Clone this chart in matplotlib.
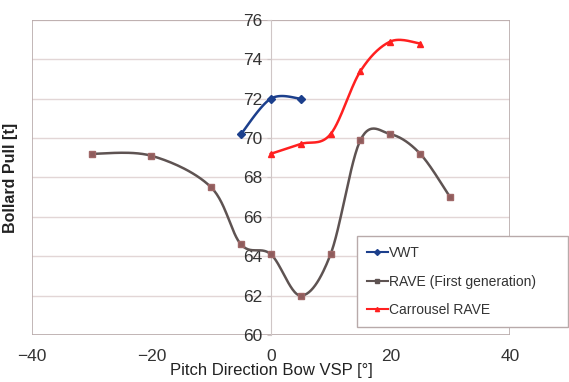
import matplotlib.pyplot as plt
import numpy as np
from matplotlib.patches import Rectangle

plt.rcParams['font.family'] = ['Liberation Sans', 'DejaVu Sans']

# data
vwt_x = [-5, 0, 5]
vwt_y = [70.2, 72.0, 72.0]

rave_x = [-30, -20, -10, -5, 0, 5, 10, 15, 20, 25, 30]
rave_y = [69.2, 69.1, 67.5, 64.6, 64.1, 62.0, 64.1, 69.9, 70.2, 69.2, 67.0]

carr_x = [0, 5, 10, 15, 20, 25]
carr_y = [69.2, 69.7, 70.2, 73.4, 74.9, 74.8]

x_ticks = [-40, -20, 0, 20, 40]
y_ticks = [60, 62, 64, 66, 68, 70, 72, 74, 76]


def smooth(xs, ys, n=30):
    # excel-style smoothed line (catmull-rom through the points)
    p = np.column_stack([xs, ys]).astype(float)
    p = np.vstack([p[0], p, p[-1]])
    out = []
    for i in range(1, len(p) - 2):
        p0, p1, p2, p3 = p[i - 1], p[i], p[i + 1], p[i + 2]
        t = np.linspace(0, 1, n)[:, None]
        seg = 0.5 * ((2 * p1) + (-p0 + p2) * t + (2 * p0 - 5 * p1 + 4 * p2 - p3) * t ** 2
                     + (-p0 + 3 * p1 - 3 * p2 + p3) * t ** 3)
        out.append(seg)
    out = np.vstack(out)
    return out[:, 0], out[:, 1]


fig = plt.figure(figsize=(5.69, 3.82), dpi=100)
ax = fig.add_axes([0.056, 0.123, 0.84, 0.825])

ax.set_xlim(-40, 40)
ax.set_ylim(60, 76)
ax.set_yticks(y_ticks)
ax.set_xticks(x_ticks)

for y in y_ticks:
    ax.axhline(y, color='#e2d6d6', lw=1, zorder=0)

for s in ['top', 'right', 'bottom']:
    ax.spines[s].set_visible(False)
ax.spines['left'].set_position(('data', 0))
ax.spines['left'].set_color('#cfc6c6')
ax.add_patch(Rectangle((0, 0), 1, 1, transform=ax.transAxes, fill=False,
                       edgecolor='#b8aaaa', lw=1.2, zorder=1))
ax.tick_params(axis='both', labelsize=12.5, colors='#333333', length=3)
ax.tick_params(axis='y', color='#cfc6c6', pad=3)
ax.tick_params(axis='x', color='#cfc6c6', length=0, pad=10)

col_vwt = '#1c3f8c'
col_rave = '#5e5352'
col_carr = '#ff2020'

sx, sy = smooth(vwt_x, vwt_y)
ax.plot(sx, sy, color=col_vwt, lw=1.8, zorder=3)
ax.plot(vwt_x, vwt_y, 'D', color=col_vwt, ms=4.5, zorder=4)

sx, sy = smooth(rave_x, rave_y)
ax.plot(sx, sy, color=col_rave, lw=1.8, zorder=3)
ax.plot(rave_x, rave_y, 's', color='#8e5c5c', mec='#a06868', ms=5, zorder=4)

sx, sy = smooth(carr_x, carr_y)
ax.plot(sx, sy, color=col_carr, lw=1.8, zorder=3)
ax.plot(carr_x, carr_y, '^', color=col_carr, ms=5, zorder=4)

ax.set_ylabel('Bollard Pull [t]', fontsize=11.5, fontweight='bold', color='#222222')
ax.yaxis.set_label_coords(-0.028, 0.5)
# x label sits right at the bottom edge, as in the original
fig.text(271 / 569, 1 - 371 / 382, 'Pitch Direction Bow VSP [°]', fontsize=12,
         color='#222222', ha='center', va='center')

h1, = ax.plot([], [], '-D', color=col_vwt, ms=3, lw=1.5)
h2, = ax.plot([], [], '-s', color=col_rave, ms=3, lw=1.5)
h3, = ax.plot([], [], '-^', color=col_carr, ms=3, lw=1.5)
leg = fig.legend([h1, h2, h3], ['VWT', 'RAVE (First generation)', 'Carrousel RAVE'],
                 loc='lower left', bbox_to_anchor=(357 / 569, 1 - 327 / 382, 211 / 569, 87 / 382),
                 mode='expand', fontsize=10, fancybox=False, framealpha=1,
                 edgecolor='#b8aaaa', handlelength=1.5, handletextpad=0.1,
                 labelspacing=1.05, borderpad=0.7, borderaxespad=0)
for t in leg.get_texts():
    t.set_color('#333333')

fig.savefig('out.png', dpi=100)
